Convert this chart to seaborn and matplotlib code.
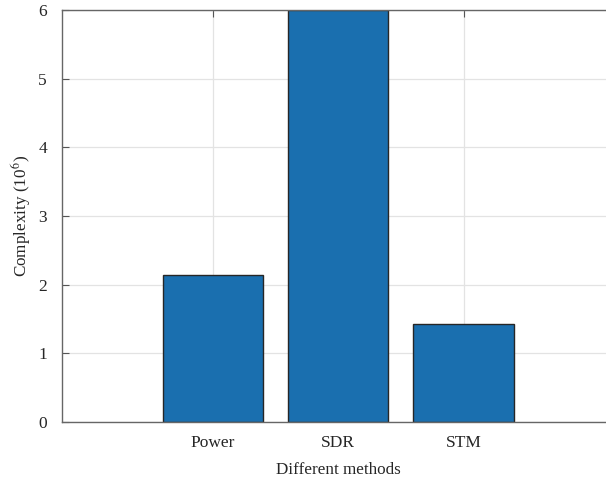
import pandas as pd
import matplotlib.pyplot as plt
import seaborn as sns

# dados
metodos = ["Power", "SDR", "STM"]
complexidade = [2.146, 6.0, 1.428]
yticks = [0, 1, 2, 3, 4, 5, 6]

df = pd.DataFrame({"metodo": metodos, "complexidade": complexidade})

sns.set_theme(style="whitegrid")
plt.rcParams["font.family"] = ["Liberation Serif", "DejaVu Serif"]
plt.rcParams["mathtext.fontset"] = "stix"

fig = plt.figure(figsize=(6.06, 4.8), dpi=100)
# o eixo vai um pouco além da borda direita, como no original (recortado)
ax = fig.add_axes([0.1028, 0.1208, 0.9106, 0.8583])

sns.barplot(
    data=df,
    x="metodo",
    y="complexidade",
    color="#1a6faf",
    saturation=1,
    width=0.8,
    edgecolor="#262626",
    linewidth=1.0,
    ax=ax,
    zorder=3,
)

ax.set_xlim(-1.2, 3.2)
ax.set_ylim(0, 6)
ax.set_yticks(yticks)

ax.grid(True, color="#e3e3e3", linewidth=0.9)
ax.set_axisbelow(True)

for lado in ["left", "top", "bottom", "right"]:
    ax.spines[lado].set_color("#666666")
    ax.spines[lado].set_linewidth(1.0)
    ax.spines[lado].set_zorder(5)
ax.spines["right"].set_visible(False)

ax.tick_params(axis="both", direction="in", length=5, width=0.8, color="#555555",
               labelsize=12.5, labelcolor="#262626",
               top=True, bottom=True, left=True, right=False)
ax.tick_params(axis="x", pad=9)
ax.tick_params(axis="y", pad=11)

ax.set_xlabel("Different methods", fontsize=12.3, color="#262626", labelpad=8)
ax.set_ylabel("Complexity (10$^6$)", fontsize=12.3, color="#262626", labelpad=4)

plt.savefig("out.png", dpi=100)
plt.close()
